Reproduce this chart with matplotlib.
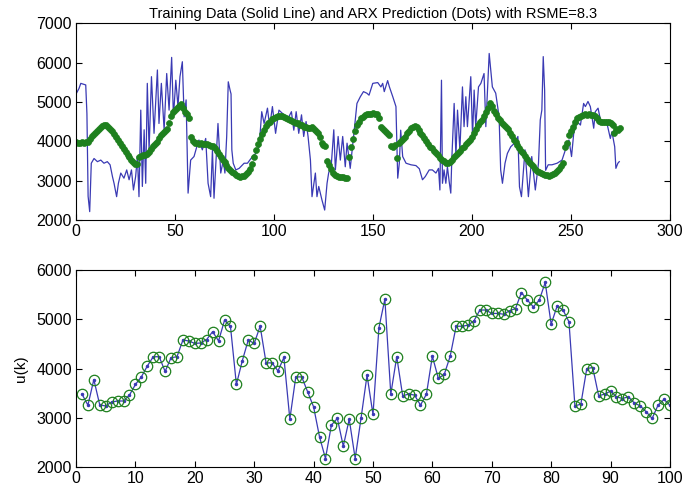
import numpy as np
import matplotlib.pyplot as plt

# training data (solid line), vertices
train_t = [0, 1.5, 2.4, 4.9, 5.5, 6.1, 6.9, 7.7, 9.1, 10.8, 12.5, 14.1, 15.8, 17.2, 18.4,
           19.2, 20.5, 21.4, 22.6, 24.2, 25.6, 26.8, 28, 29, 30.1, 31, 31.8, 32.7, 33.5,
           34.4, 35.2, 36, 36.9, 38.1, 39.4, 41.1, 41.9, 43.1, 44.5, 45.8, 47, 48.3, 49.2,
           50.4, 51.5, 52.5, 53.7, 54.6, 55.6, 56.6, 57.9, 59.6, 61, 62.1, 63.8, 65.5,
           66.7, 68, 68.9, 69.7, 71.7, 73.1, 74.4, 75.2, 76.1, 76.9, 77.8, 78.3, 78.7,
           79.4, 80.7, 82.4, 84.9, 86.6, 89.1, 90.8, 92.5, 93.8, 95, 96.7, 97.8, 99.2,
           100.8, 102.5, 104.2, 105.8, 107.5, 108.8, 110, 111.2, 112.5, 113.9, 115, 116.2,
           117.2, 118.4, 119.2, 120.9, 121.7, 122.6, 124.2, 125.6, 126.8, 127.6, 129,
           130.2, 131, 132.4, 133.5, 134.7, 136, 136.9, 138.5, 140.2, 141.9, 143.6, 145.2,
           146.9, 148, 149.9, 152.4, 154, 154.9, 155.7, 157.4, 158.3, 160, 161.6, 162.5,
           163.3, 164, 165, 166.7, 169.2, 171.7, 173.4, 175, 176.4, 178.4, 180, 181.8,
           183.1, 183.8, 184.6, 185.1, 185.9, 186.8, 187.6, 188.5, 189.3, 189.8, 191,
           191.9, 192.7, 193.9, 195.2, 196, 196.9, 197.7, 199.4, 200.3, 201.1, 201.9,
           203.3, 204.5, 206.1, 207, 208.7, 209.5, 210.3, 212, 213.7, 214.5, 215.4, 216.7,
           217.9, 219.6, 221.3, 223.2, 224, 225, 226.8, 228.5, 230.2, 232, 233.6, 234.5,
           235.3, 236, 236.7, 237.2, 238.5, 240.4, 243, 245.5, 247.2, 249, 250.3, 251.4,
           253.1, 254.8, 256.4, 257.3, 258.6, 259.8, 261.5, 262.3, 263.7, 264.9, 266.5,
           268.2, 269.9, 270.7, 272.1, 272.7, 273.7, 274.4]
train_y = [5200, 5340, 5470, 5430, 4700, 2600, 2210, 3440, 3560, 3480, 3520, 3440, 3480, 3400, 3100,
           2930, 2590, 2930, 3190, 3060, 3270, 3020, 3270, 2760, 3100, 3610, 2590, 4790, 2850,
           4290, 2930, 5470, 3780, 5640, 4200, 5810, 4450, 5470, 4290, 5720, 4790, 6130, 4620,
           5550, 4880, 5640, 6020, 4620, 5050, 2680, 3520, 3610, 3860, 4030, 3780, 4070,
           2930, 2590, 3780, 2550, 4450, 3190, 3520, 3190, 4120, 5510, 5300, 5200, 3780,
           3440, 3270, 3310, 3440, 3440, 3610, 3690, 3860, 4750, 4450, 4840, 4370, 4880,
           4200, 4790, 4710, 4620, 4620, 4750, 4280, 4750, 4200, 4670, 4120, 4500,
           4120, 3520, 2590, 3190, 2590, 2850, 2510, 2250, 2930, 3190, 3440,
           4290, 3270, 4120, 3520, 4120, 3350, 3950, 3310, 4120, 4960, 5130, 5260,
           5220, 5170, 5470, 5490, 5380, 5470, 5260, 5540, 5380, 5130, 4880, 3060,
           3440, 4280, 3610, 3440, 3400, 3380, 3300, 3020, 3100, 3270, 3270, 3190,
           3310, 2760, 5550, 2930, 3270, 2930, 3350, 2970, 2680, 3520, 4960,
           3610, 4790, 3780, 5380, 4370, 5130, 4370, 5640, 4120, 5300, 4370,
           5380, 5470, 5720, 4370, 6230, 5810, 5380, 5220, 4620, 3270, 2930, 3440,
           3690, 3860, 3940, 4120, 2840, 2590, 3780, 2590, 3610, 2760, 3440, 4540,
           4790, 6150, 5300, 3260, 3400, 3400, 3440, 3520, 3780, 4030, 3610, 4200,
           4500, 4410, 4960, 4880, 5010, 4880, 4330, 4750, 4840, 4540, 4500,
           4450, 4070, 4240, 3860, 3310, 3440, 3480]

# ARX prediction (dots), one per sample k = 0..275
pred_y = [3970, 3960, 3960, 3970, 3960, 3980, 3990, 4050, 4120, 4180,
          4230, 4280, 4330, 4380, 4410, 4400, 4370, 4320, 4250, 4180,
          4110, 4030, 3950, 3880, 3800, 3730, 3660, 3590, 3530, 3470,
          3430, 3420, 3600, 3620, 3640, 3660, 3680, 3730, 3800, 3870,
          3920, 3990, 4080, 4160, 4200, 4250, 4300, 4450, 4650, 4750,
          4800, 4840, 4900, 4950, 4850, 4750, 4700, 4600, 4100, 4000,
          3960, 3950, 3940, 3950, 3940, 3930, 3920, 3900, 3880, 3870,
          3820, 3750, 3680, 3600, 3530, 3460, 3400, 3330, 3270, 3220,
          3180, 3150, 3120, 3100, 3110, 3120, 3160, 3220, 3300, 3420,
          3600, 3780, 3920, 4050, 4180, 4280, 4380, 4450, 4500, 4560,
          4600, 4620, 4640, 4650, 4640, 4620, 4600, 4570, 4550, 4520,
          4500, 4470, 4450, 4420, 4400, 4370, 4350, 4330, 4340, 4350,
          4300, 4250, 4200, 4100, 3950, 3900, 3880, 3500, 3400, 3300,
          3200, 3150, 3120, 3100, 3100, 3080, 3070, 3060, 3600, 3850,
          4050, 4250, 4400, 4500, 4580, 4620, 4660, 4680, 4700, 4700,
          4710, 4700, 4680, 4600, 4350, 4300, 4260, 4220, 4150, 3870,
          3850, 3900, 3570, 3950, 4000, 4050, 4100, 4200, 4270, 4330,
          4360, 4380, 4350, 4290, 4220, 4150, 4080, 4000, 3930, 3860,
          3820, 3750, 3690, 3640, 3580, 3530, 3490, 3450, 3440, 3460,
          3530, 3600, 3650, 3700, 3760, 3820, 3860, 3920, 3980, 4040,
          4100, 4200, 4300, 4400, 4480, 4550, 4650, 4750, 4850, 4980,
          4900, 4780, 4680, 4600, 4530, 4470, 4420, 4360, 4300, 4220,
          4120, 4040, 3970, 3900, 3830, 3760, 3700, 3620, 3560, 3480,
          3420, 3360, 3300, 3250, 3210, 3180, 3160, 3140, 3130, 3120,
          3140, 3170, 3200, 3250, 3300, 3360, 3450, 3850, 3950, 4150,
          4250, 4350, 4500, 4580, 4620, 4650, 4670, 4680, 4670, 4680,
          4670, 4660, 4650, 4600, 4520, 4500, 4490, 4480, 4490, 4480,
          4450, 4420, 4200, 4300, 4280, 4330]

# input u(k), k = 1..100
u_k = [3480, 3255, 3776, 3255, 3240, 3320, 3340, 3340, 3460, 3675,
       3830, 4050, 4240, 4240, 3940, 4220, 4240, 4580, 4560, 4510,
       4520, 4590, 4750, 4560, 4980, 4860, 3675, 4160, 4580, 4510,
       4860, 4115, 4115, 3950, 4225, 2970, 3830, 3830, 3525, 3220,
       2610, 2170, 2850, 2985, 2420, 2970, 2170, 3000, 3865, 3065,
       4830, 5410, 3480, 4240, 3445, 3480, 3460, 3255, 3480, 4250,
       3800, 3880, 4250, 4860, 4860, 4880, 4970, 5190, 5190, 5120,
       5120, 5105, 5175, 5220, 5545, 5390, 5255, 5390, 5750, 4900,
       5270, 5190, 4950, 3240, 3275, 4000, 4020, 3445, 3480, 3540,
       3425, 3390, 3425, 3300, 3240, 3120, 2985, 3255, 3370, 3255]

blue = '#3a3ab4'
green = '#1e801e'

plt.rcParams['font.family'] = ['Liberation Sans', 'DejaVu Sans']
fig = plt.figure(figsize=(6.85, 4.93), dpi=100)
ax1 = fig.add_axes([0.111, 0.554, 0.867, 0.399])
ax2 = fig.add_axes([0.111, 0.053, 0.867, 0.399])

ax1.plot(train_t, train_y, color=blue, linewidth=0.9)
ax1.plot(np.arange(len(pred_y)), pred_y, 'o', color=green, markersize=4.3,
         markeredgewidth=0.5)
ax1.set_xlim(0, 300)
ax1.set_ylim(2000, 7000)
ax1.set_xticks(range(0, 301, 50))
ax1.set_yticks(range(2000, 7001, 1000))
ax1.set_title('Training Data (Solid Line) and ARX Prediction (Dots) with RSME=8.3',
              fontsize=10.5, pad=4)

k = np.arange(1, len(u_k) + 1)
ax2.plot(k, u_k, '.-', color=blue, linewidth=0.9, markersize=3)
ax2.plot(k, u_k, 'o', color=green, markerfacecolor='none', markersize=7.5,
         markeredgewidth=0.9)
ax2.set_xlim(0, 100)
ax2.set_ylim(2000, 6000)
ax2.set_xticks(range(0, 101, 10))
ax2.set_yticks(range(2000, 6001, 1000))
ax2.set_ylabel('u(k)', fontsize=11, labelpad=6)

for ax in (ax1, ax2):
    ax.tick_params(direction='in', top=True, right=True, length=4, width=0.8,
                   labelsize=11.5, pad=3)
    for s in ax.spines.values():
        s.set_linewidth(0.8)

fig.savefig('out.png', dpi=100)
